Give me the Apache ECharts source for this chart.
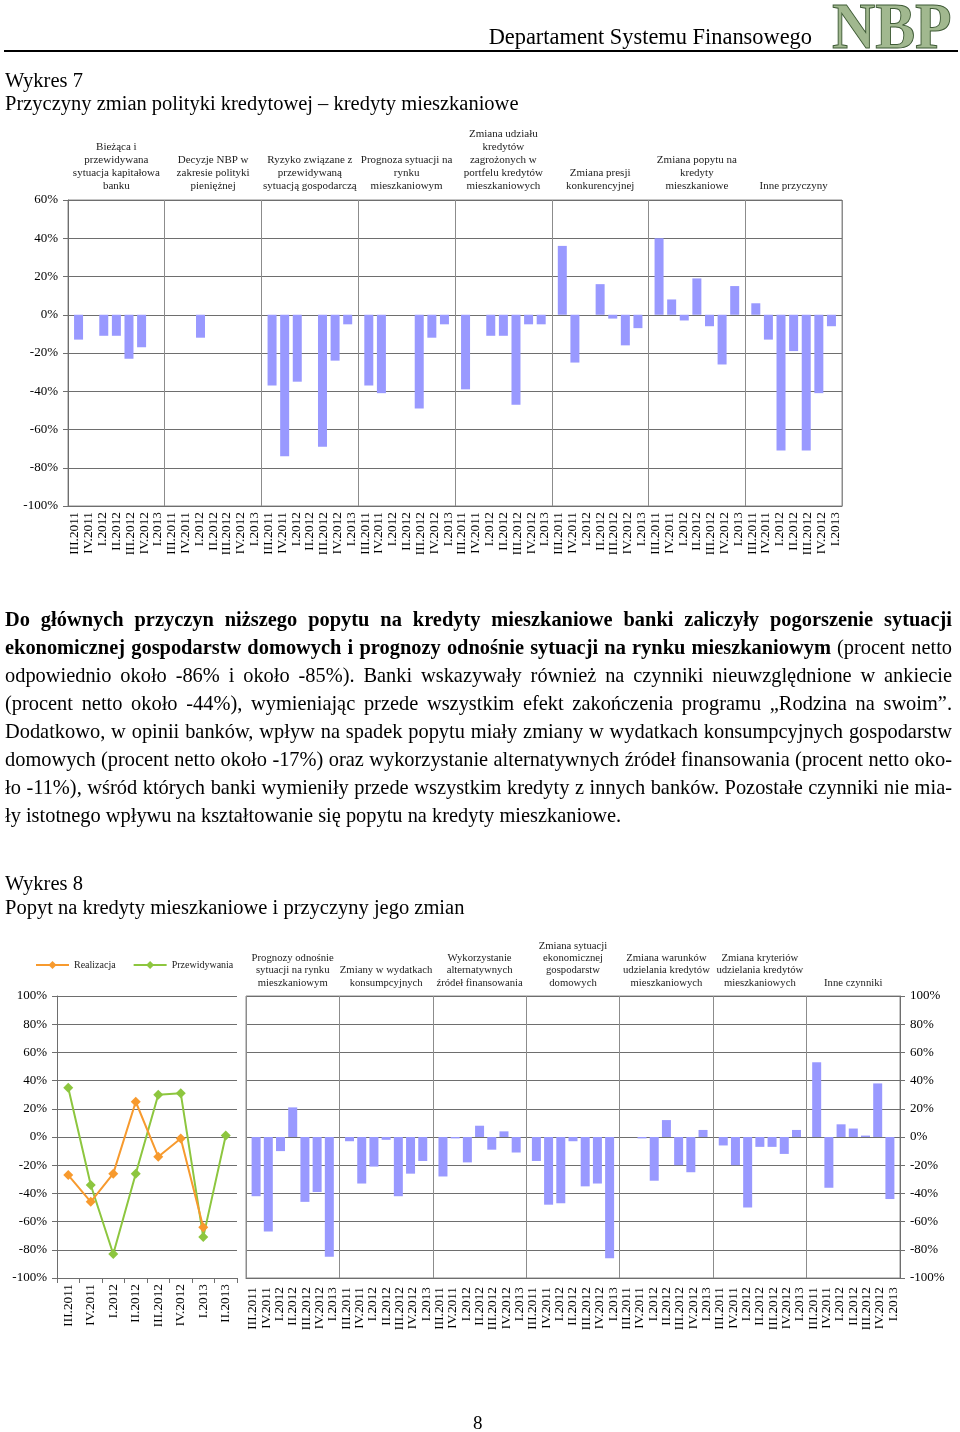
<!DOCTYPE html>
<html><head><meta charset="utf-8">
<script src="https://cdn.jsdelivr.net/npm/echarts@6/dist/echarts.min.js"></script>
<style>
html,body{margin:0;padding:0;background:#fff;}
#page{position:relative;width:960px;height:1432px;overflow:hidden;font-family:'Liberation Serif','Times New Roman',serif;color:#000;}
#chart{position:absolute;left:0;top:0;width:960px;height:1432px;}
.t{position:absolute;white-space:nowrap;line-height:1;}
.pl{position:absolute;left:5px;width:947px;height:28px;line-height:28px;font-size:20.4px;white-space:nowrap;}
</style></head>
<body><div id="page"><div id="chart"></div>
<div class="t" style="right:148px;top:26px;font-size:22.4px;">Departament Systemu Finansowego</div>
<div class="t" style="left:832px;top:-6px;font-size:65px;font-weight:bold;color:#a1b88f;-webkit-text-stroke:1px #3f5b36;transform-origin:0 0;transform:scaleX(0.92);">NBP</div>
<div style="position:absolute;left:4px;top:50px;width:954px;height:2px;background:#000;"></div>
<div class="t" style="left:5px;top:70px;font-size:20.5px;">Wykres 7</div>
<div class="t" style="left:5px;top:93px;font-size:20.5px;">Przyczyny zmian polityki kredytowej – kredyty mieszkaniowe</div>
<div id="para"></div>
<div class="t" style="left:5px;top:873px;font-size:20.5px;">Wykres 8</div>
<div class="t" style="left:5px;top:897px;font-size:20.5px;">Popyt na kredyty mieszkaniowe i przyczyny jego zmian</div>
<div class="t" style="left:473px;top:1413px;font-size:19px;">8</div>
</div>
<script>
// ---------- DATA ----------
const quarters = ['III.2011','IV.2011','I.2012','II.2012','III.2012','IV.2012','I.2013'];
const quartersLine = ['III.2011','IV.2011','I.2012','II.2012','III.2012','IV.2012','I.2013','II.2013'];

// Wykres 7 – group names
const w7Groups = [
  'Bieżąca i\nprzewidywana\nsytuacja kapitałowa\nbanku',
  'Decyzje NBP w\nzakresie polityki\npieniężnej',
  'Ryzyko związane z\nprzewidywaną\nsytuacją gospodarczą',
  'Prognoza sytuacji na\nrynku\nmieszkaniowym',
  'Zmiana udziału\nkredytów\nzagrożonych w\nportfelu kredytów\nmieszkaniowych',
  'Zmiana presji\nkonkurencyjnej',
  'Zmiana popytu na\nkredyty\nmieszkaniowe',
  'Inne przyczyny'
];
// Wykres 7 – values (%), per group, in quarter order
const w7Kapital      = [-13, 0, -11, -11, -23, -17, 0];
const w7DecyzjeNBP   = [0, 0, -12, 0, 0, 0, 0];
const w7Ryzyko       = [-37, -74, -35, 0, -69, -24, -5];
const w7Prognoza     = [-37, -41, 0, 0, -49, -12, -5];
const w7Zagrozone    = [-39, 0, -11, -11, -47, -5, -5];
const w7Konkurencja  = [36, -25, 0, 16, -2, -16, -7];
const w7Popyt        = [40, 8, -3, 19, -6, -26, 15];
const w7Inne         = [6, -13, -71, -19, -71, -41, -6];
const w7Series = [w7Kapital, w7DecyzjeNBP, w7Ryzyko, w7Prognoza, w7Zagrozone, w7Konkurencja, w7Popyt, w7Inne];

// Wykres 8 – lines
const w8Realizacja    = [-27, -46, -26, 25, -14, -1, -64, null];
const w8Przewidywania = [35, -34, -83, -26, 30, 31, -71, 1];

// Wykres 8 – group names
const w8Groups = [
  'Prognozy odnośnie\nsytuacji na rynku\nmieszkaniowym',
  'Zmiany w wydatkach\nkonsumpcyjnych',
  'Wykorzystanie\nalternatywnych\nźródeł finansowania',
  'Zmiana sytuacji\nekonomicznej\ngospodarstw\ndomowych',
  'Zmiana warunków\nudzielania kredytów\nmieszkaniowych',
  'Zmiana kryteriów\nudzielania kredytów\nmieszkaniowych',
  'Inne czynniki'
];
const w8Prognozy      = [-42, -67, -10, 21, -46, -39, -85];
const w8Wydatki       = [-3, -33, -21, -2, -42, -26, -17];
const w8Alternatywne  = [-28, -1, -18, 8, -9, 4, -11];
const w8Sytuacja      = [-17, -48, -47, -3, -35, -33, -86];
const w8Warunki       = [0, -1, -31, 12, -20, -25, 5];
const w8Kryteria      = [-6, -20, -50, -7, -7, -12, 5];
const w8Inne          = [53, -36, 9, 6, 1, 38, -44];
const w8Series = [w8Prognozy, w8Wydatki, w8Alternatywne, w8Sytuacja, w8Warunki, w8Kryteria, w8Inne];

const yTicks7 = {min: -100, max: 60, interval: 20};
const yTicks8 = {min: -100, max: 100, interval: 20};

// ---------- PARAGRAPH ----------
const paraLines = [
  '<b>Do głównych przyczyn niższego popytu na kredyty mieszkaniowe banki zaliczyły pogorszenie sytuacji</b>',
  '<b>ekonomicznej gospodarstw domowych i prognozy odnośnie sytuacji na rynku mieszkaniowym</b> (procent netto',
  'odpowiednio około -86% i około -85%). Banki wskazywały również na czynniki nieuwzględnione w ankiecie',
  '(procent netto około -44%), wymieniając przede wszystkim efekt zakończenia programu „Rodzina na swoim”.',
  'Dodatkowo, w opinii banków, wpływ na spadek popytu miały zmiany w wydatkach konsumpcyjnych gospodarstw',
  'domowych (procent netto około -17%) oraz wykorzystanie alternatywnych źródeł finansowania (procent netto oko-',
  'ło -11%), wśród których banki wymieniły przede wszystkim kredyty z innych banków. Pozostałe czynniki nie mia-',
  'ły istotnego wpływu na kształtowanie się popytu na kredyty mieszkaniowe.'
];
const para = document.getElementById('para');
paraLines.forEach((html, i) => {
  const d = document.createElement('div');
  d.className = 'pl';
  d.style.top = (605 + i * 28) + 'px';
  d.innerHTML = '<span>' + html + '</span>';
  para.appendChild(d);
  if (i < paraLines.length - 1) {
    const w = d.firstElementChild.getBoundingClientRect().width;
    const n = (d.textContent.match(/ /g) || []).length;
    if (n > 0) d.style.wordSpacing = ((947 - w) / n) + 'px';
  }
});

// ---------- CHART ----------
const FONT = "'Liberation Serif', 'Times New Roman', serif";
const GRID_H = '#6e6e6e';
const GRID_V = '#8c8c8c';
const BAR = '#9999ff';
const grids = [], xAxes = [], yAxes = [], series = [];

function mainPanel(box, labels, groups, yt, yPos, labelMargin, headerFont, headerLH, splitEvery) {
  const gi = grids.length;
  grids.push({left: box.left, top: box.top, width: box.width, height: box.height,
    show: true, borderColor: GRID_V, borderWidth: 1, backgroundColor: 'transparent'});
  xAxes.push({gridIndex: gi, type: 'category', data: labels, boundaryGap: true,
    axisLine: {show: true, onZero: false, lineStyle: {color: GRID_H}}, axisTick: {show: false},
    axisLabel: {interval: 0, rotate: 90, fontSize: 13.3, fontFamily: FONT, color: '#000', margin: labelMargin},
    splitLine: {show: true, interval: (i) => i % splitEvery === 0, lineStyle: {color: GRID_V}}});
  xAxes.push({gridIndex: gi, type: 'category', position: 'top', data: groups,
    axisLine: {show: false, onZero: false}, axisTick: {show: false}, splitLine: {show: false},
    axisLabel: {interval: 0, fontSize: headerFont, lineHeight: headerLH, fontFamily: FONT, color: '#222', margin: 7}});
  yAxes.push({gridIndex: gi, type: 'value', position: yPos, min: yt.min, max: yt.max, interval: yt.interval,
    axisLine: {show: true, lineStyle: {color: GRID_H}},
    axisTick: {show: true, length: 5, lineStyle: {color: GRID_H}},
    axisLabel: {formatter: '{value}%', fontSize: 13, fontFamily: FONT, color: '#000', margin: 10},
    splitLine: {show: true, lineStyle: {color: GRID_H}}});
  return gi;
}

function barGroups(box, data, yt, pad) {
  const gw = box.width / data.length;
  data.forEach((vals, g) => {
    const gi = grids.length;
    grids.push({left: box.left + g * gw + pad, top: box.top, width: gw - 2 * pad, height: box.height});
    const xi = xAxes.length, yi = yAxes.length;
    xAxes.push({gridIndex: gi, type: 'category', data: quarters, show: false, boundaryGap: true});
    yAxes.push({gridIndex: gi, type: 'value', min: yt.min, max: yt.max, show: false});
    series.push({type: 'bar', xAxisIndex: xi, yAxisIndex: yi, data: vals, barWidth: 9,
      itemStyle: {color: BAR}, silent: true});
  });
}

// Wykres 7
const box7 = {left: 68, top: 200, width: 774, height: 306};
const labels7 = [].concat(...w7Groups.map(() => quarters));
mainPanel(box7, labels7, w7Groups, yTicks7, 'left', 6, 11, 13, 7);
barGroups(box7, w7Series, yTicks7, 4.25);

// Wykres 8 – line panel
const boxL = {left: 57, top: 996, width: 180, height: 282};
{
  const gi = grids.length;
  grids.push({left: boxL.left, top: boxL.top, width: boxL.width, height: boxL.height});
  const xi = xAxes.length, yi = yAxes.length;
  xAxes.push({gridIndex: gi, type: 'category', data: quartersLine, boundaryGap: true,
    axisLine: {show: true, onZero: false, lineStyle: {color: GRID_H}},
    axisTick: {show: true, interval: 0, length: 5, lineStyle: {color: GRID_H}},
    axisLabel: {interval: 0, rotate: 90, fontSize: 13.3, fontFamily: FONT, color: '#000', margin: 6},
    splitLine: {show: false}});
  yAxes.push({gridIndex: gi, type: 'value', min: yTicks8.min, max: yTicks8.max, interval: yTicks8.interval,
    axisLine: {show: true, lineStyle: {color: GRID_H}},
    axisTick: {show: true, length: 5, lineStyle: {color: GRID_H}},
    axisLabel: {formatter: '{value}%', fontSize: 13, fontFamily: FONT, color: '#000', margin: 10},
    splitLine: {show: true, lineStyle: {color: GRID_H}}});
  series.push({name: 'Realizacja', type: 'line', xAxisIndex: xi, yAxisIndex: yi, data: w8Realizacja,
    symbol: 'diamond', symbolSize: 10, lineStyle: {color: '#f79a2e', width: 2},
    itemStyle: {color: '#f79a2e'}, connectNulls: false, silent: true, z: 5});
  series.push({name: 'Przewidywania', type: 'line', xAxisIndex: xi, yAxisIndex: yi, data: w8Przewidywania,
    symbol: 'diamond', symbolSize: 10, lineStyle: {color: '#8dc63f', width: 2},
    itemStyle: {color: '#8dc63f'}, silent: true, z: 4});
}

// Wykres 8 – bar panel
const box8 = {left: 246, top: 996, width: 654, height: 282};
const labels8 = [].concat(...w8Groups.map(() => quarters));
mainPanel(box8, labels8, w8Groups, yTicks8, 'right', 9, 10.7, 12.3, 7);
barGroups(box8, w8Series, yTicks8, 4);

const chart = echarts.init(document.getElementById('chart'), null, {renderer: 'canvas'});
chart.setOption({
  animation: false,
  backgroundColor: 'transparent',
  textStyle: {fontFamily: FONT},
  legend: {data: ['Realizacja', 'Przewidywania'], left: 35, top: 960, padding: 0, itemWidth: 33, itemHeight: 10, itemGap: 17,
    textStyle: {fontSize: 10, fontFamily: FONT, color: '#222'}, selectedMode: false},
  grid: grids, xAxis: xAxes, yAxis: yAxes, series: series
});
</script>
</body></html>
